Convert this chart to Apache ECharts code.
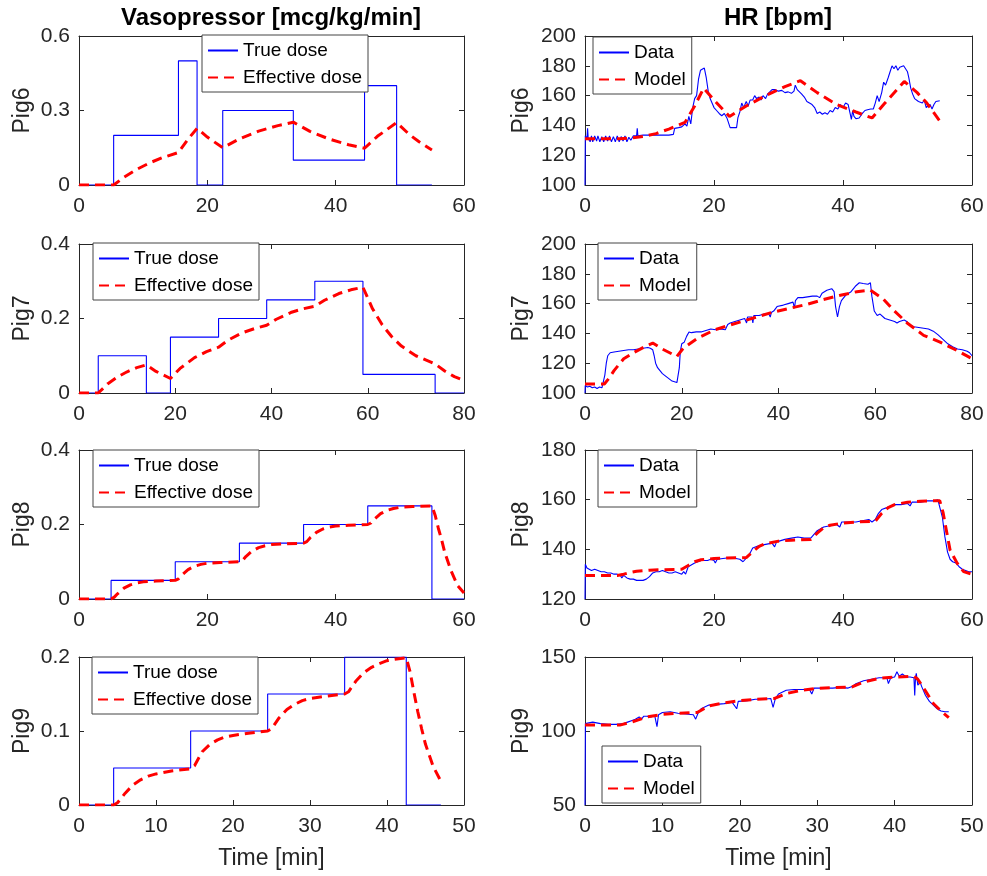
<!DOCTYPE html>
<html>
<head>
<meta charset="utf-8">
<title>Vasopressor / HR</title>
<script src="https://cdn.jsdelivr.net/npm/echarts@6.0.0/dist/echarts.min.js"></script>
<style>
  html, body { margin: 0; padding: 0; background: #fff; }
  #main { width: 987px; height: 876px; }
</style>
</head>
<body>
<div id="main"></div>
<script>
// ---- data: [time (min), value] ----
var pigNames = ['Pig6', 'Pig7', 'Pig8', 'Pig9'];

// x range per pig [max, interval]
var timeAxes = [[60, 20], [80, 20], [60, 20], [50, 10]];
// y range per pig, vasopressor [min, max, interval]
var doseAxes = [[0, 0.6, 0.3], [0, 0.4, 0.2], [0, 0.4, 0.2], [0, 0.2, 0.1]];
// y range per pig, HR
var hrAxes = [[100, 200, 20], [100, 200, 20], [120, 180, 20], [50, 150, 50]];

// true dose, held until next point
var pig6True = [[0, 0], [5.4, 0.2], [15.5, 0.5], [18.4, 0], [22.4, 0.3], [33.4, 0.1], [44.5, 0.4], [49.5, 0], [55, 0]];
var pig7True = [[0, 0], [4, 0.1], [14, 0], [19, 0.15], [29, 0.2], [39, 0.25], [49, 0.3], [59, 0.05], [74, 0], [80, 0]];
var pig8True = [[0, 0], [5, 0.05], [15, 0.1], [25, 0.15], [35, 0.2], [45, 0.25], [55, 0], [60, 0]];
var pig9True = [[0, 0], [4.5, 0.05], [14.5, 0.1], [24.5, 0.15], [34.5, 0.2], [42.5, 0], [47, 0]];

// effective dose
var pig6Eff = [[0, 0], [5.4, 0], [7, 0.031], [9, 0.063], [11, 0.089], [13, 0.110], [15.5, 0.131], [17, 0.185], [18.4, 0.228],
  [20, 0.193], [22.4, 0.150], [25, 0.186], [28, 0.217], [31, 0.239], [33.4, 0.253], [36, 0.216], [39, 0.185], [42, 0.162],
  [44.5, 0.148], [46.5, 0.196], [49.5, 0.251], [51.5, 0.203], [53, 0.174], [55, 0.141]];
var pig7Eff = [[0, 0], [4, 0], [6, 0.025], [8, 0.043], [10, 0.057], [12, 0.068], [14, 0.0755], [16, 0.058], [19, 0.039],
  [21, 0.066], [24, 0.095], [26.5, 0.111], [29, 0.123], [31, 0.142], [34, 0.162], [36.5, 0.173], [39, 0.182],
  [41, 0.198], [44, 0.216], [46.5, 0.226], [49, 0.233], [51, 0.249], [54, 0.267], [56.5, 0.277], [59, 0.284],
  [61, 0.226], [63, 0.183], [65, 0.151], [67, 0.126], [70, 0.1], [74, 0.078], [76, 0.059], [78, 0.044], [80, 0.034]];
var pig8Eff = [[0, 0], [5, 0], [5.5, 0.005], [6, 0.014], [7, 0.029], [8, 0.038], [9, 0.043], [10, 0.046], [12, 0.048], [15, 0.05],
  [15.5, 0.054], [16, 0.064], [17, 0.079], [18, 0.088], [19, 0.093], [20, 0.096], [22, 0.098], [25, 0.1],
  [25.5, 0.104], [26, 0.114], [27, 0.129], [28, 0.138], [29, 0.143], [30, 0.146], [32, 0.148], [35, 0.15],
  [35.5, 0.154], [36, 0.164], [37, 0.179], [38, 0.188], [39, 0.193], [40, 0.196], [42, 0.198], [45, 0.2],
  [45.5, 0.204], [46, 0.214], [47, 0.229], [48, 0.238], [49, 0.243], [50, 0.246], [52, 0.248], [55, 0.25],
  [55.5, 0.225], [56, 0.19], [56.5, 0.16], [57, 0.125], [58, 0.075], [59, 0.036], [60, 0.016]];
var pig9Eff = [[0, 0], [4.5, 0], [5, 0.003], [6, 0.016], [7, 0.027], [8, 0.034], [9, 0.039], [10, 0.042], [12, 0.046], [14.5, 0.049],
  [15, 0.053], [16, 0.072], [17, 0.082], [18, 0.088], [19, 0.092], [20, 0.094], [22, 0.097], [24.5, 0.1],
  [25, 0.103], [26, 0.118], [27, 0.129], [28, 0.136], [29, 0.141], [30, 0.144], [32, 0.147], [34.5, 0.15],
  [35, 0.153], [36, 0.168], [37, 0.179], [38, 0.186], [39, 0.191], [40, 0.195], [41, 0.197], [42.5, 0.199],
  [43, 0.18], [43.5, 0.152], [44, 0.126], [44.5, 0.103], [45, 0.082], [46, 0.052], [47, 0.032]];

// measured HR
var pig6Hr = [[0, 100], [0.05, 133], [0.3, 131], [0.4, 138], [0.5, 131], [0.8, 129], [1, 133], [1.2, 129], [1.5, 133], [1.8, 129.5],
  [2, 133], [2.3, 129], [2.6, 132.5], [2.9, 129], [3.2, 133], [3.5, 129.5], [3.8, 133], [4.1, 129], [4.4, 132.5], [4.7, 129],
  [5, 133], [5.3, 129], [5.6, 132.5], [5.9, 129.5], [6.2, 133], [6.5, 129], [6.8, 132], [7.1, 130], [7.5, 133], [8, 133],
  [8.1, 138], [8.2, 133], [9, 133.5], [10, 133.5], [11, 133.5], [12, 133.5], [13, 133.5], [13.7, 134], [13.9, 138], [14.5, 138.5],
  [15, 139], [15.5, 141], [15.8, 139.5], [16.1, 146], [16.4, 141], [16.7, 152], [17, 158], [17.3, 160], [17.6, 171], [17.9, 177],
  [18.2, 176], [18.5, 178.5], [18.8, 172], [19.1, 163], [19.4, 158], [19.7, 155], [20, 152], [20.4, 150], [20.8, 148], [21.2, 146.5],
  [21.6, 148], [22, 145], [22.3, 144], [22.5, 138.5], [23.5, 138.5], [23.7, 145], [24, 149], [24.3, 155], [24.6, 152], [25, 156],
  [25.3, 153], [25.6, 157], [26, 157], [26.3, 160], [26.6, 158], [27, 159], [27.3, 157], [27.6, 160], [28, 158], [28.3, 161],
  [28.6, 160], [29, 164], [29.5, 164], [30, 163], [30.5, 163.5], [31, 162], [31.5, 162.5], [32, 161.5], [32.4, 163], [32.6, 167],
  [32.9, 164], [33.2, 163], [33.6, 161], [34, 159], [34.4, 156], [34.8, 155], [35.2, 154], [35.6, 152], [36, 148], [36.4, 149],
  [36.8, 147.5], [37.2, 148.5], [37.6, 147.5], [38, 150], [38.4, 149], [38.8, 152], [39.2, 151], [39.6, 154], [40, 152], [40.4, 155],
  [40.8, 154], [41, 155], [41.1, 148], [41.3, 144], [41.5, 150], [41.7, 146], [42, 144.5], [42.5, 145], [43, 148], [43.4, 150],
  [43.8, 150.5], [44.3, 151], [44.7, 151], [45, 155], [45.3, 160], [45.6, 156], [46, 162], [46.3, 169], [46.6, 167], [47, 172],
  [47.3, 176], [47.6, 180], [47.9, 178], [48.2, 180], [48.5, 177], [48.8, 179], [49.1, 178], [49.4, 180], [49.7, 181], [50, 176],
  [50.2, 172], [50.5, 165], [50.8, 161], [51.1, 158], [51.4, 157], [51.7, 156], [52, 156.5], [52.3, 155], [52.6, 157], [52.9, 152],
  [53.2, 151], [53.5, 154], [53.8, 151], [54.1, 154], [54.4, 156], [54.7, 156.5], [55, 156.5]];
var pig7Hr = [[0, 100], [0.05, 105], [0.5, 104], [1, 104.5], [1.5, 103.5], [2, 104], [2.5, 103], [3, 104], [3.5, 103.5], [3.9, 104],
  [4.1, 112], [4.4, 120], [4.7, 125], [5.2, 127], [6, 127.5], [7, 128], [8, 128.5], [9, 129], [10, 129], [11, 129.5], [12, 130],
  [13, 130.5], [13.5, 130], [14, 129], [14.3, 125], [14.6, 120], [15, 117], [15.5, 115], [16, 113], [17, 110.5], [18, 108], [19, 107],
  [19.3, 108], [19.5, 117], [19.7, 128], [20, 133], [20.5, 134], [21, 138], [21.5, 141], [22, 140.5], [23, 141], [24, 141], [25, 142],
  [26, 143], [27, 142.5], [28, 143], [29, 142.5], [29.5, 146], [30, 147], [31, 148], [32, 149], [33, 150], [33.4, 147], [33.6, 151],
  [34.5, 151], [34.7, 147], [34.9, 152], [36, 152], [37, 153], [38, 153], [38.3, 151], [38.5, 154], [39, 155], [39.7, 158], [41, 159],
  [42, 160], [43, 161], [43.3, 157], [43.5, 162], [44, 164], [45, 164], [46, 164.5], [47, 165], [48, 165], [48.5, 164], [49, 167],
  [50, 169], [51, 170], [51.5, 168], [51.8, 158], [52.2, 151], [52.6, 158], [53, 162], [54, 166], [55, 168], [56, 172], [56.7, 174],
  [57.5, 173.5], [58.5, 173], [59, 174], [59.3, 165], [59.8, 155], [60.4, 152], [61, 153], [61.4, 152], [62, 150], [63, 149],
  [64, 148], [64.5, 147], [65, 148], [66, 149], [66.5, 148], [67, 146], [68, 144.5], [69, 144], [70, 143.5], [71, 143], [72, 141.5],
  [73, 139], [74, 136], [75, 133], [76, 131], [77, 129.5], [78, 129], [79, 128], [79.5, 127], [80, 125]];
var pig8Hr = [[0, 120], [0.05, 134], [0.3, 132.5], [0.6, 132], [1, 131.5], [1.5, 132], [2, 131.5], [2.5, 131], [3, 131], [3.5, 130.5],
  [4, 130.5], [4.5, 130], [5, 130], [5.5, 129.5], [5.7, 128.5], [6, 129.5], [6.5, 128.5], [7, 128], [7.5, 128], [8, 127.5], [9, 127.5],
  [9.5, 128], [10, 129], [10.5, 130.5], [11, 131], [11.5, 131], [12, 131.5], [12.5, 131], [13, 130.5], [13.5, 130.5], [14, 131],
  [14.5, 130.5], [15, 130], [15.3, 131], [15.6, 130], [16, 133], [17, 134.5], [18, 135.5], [19, 135.5], [19.5, 136], [20, 135.5],
  [20.2, 134.5], [20.5, 136], [22, 136.5], [23, 136.5], [24, 136], [24.5, 135], [25, 136.5], [25.5, 138], [26, 140.5], [27, 141.5],
  [28, 142], [29, 142.5], [29.4, 141], [29.7, 143], [30, 143.5], [31, 144], [32, 144.5], [33, 145], [34, 144.5], [35, 144.5],
  [35.5, 146], [36, 147.5], [37, 149], [38, 149.5], [39, 150], [39.5, 149], [39.8, 151], [41, 151], [42, 151], [43, 151.5], [44, 152],
  [44.5, 151], [45, 152], [45.5, 154.5], [46, 156], [47, 157], [48, 158], [49, 158], [50, 158.5], [50.4, 157.5], [50.7, 159],
  [52, 159], [53, 159.5], [54, 159.5], [54.7, 160], [55, 159.5], [55.4, 153], [55.8, 145], [56.2, 139], [56.6, 136], [57, 135],
  [57.5, 134.5], [58, 133], [58.5, 132], [59, 131.5], [59.5, 131], [60, 131]];
var pig9Hr = [[0, 50], [0.05, 105], [0.5, 105.5], [1, 106], [2, 105], [3, 104.5], [4, 104.5], [5, 105], [5.5, 106], [6, 107],
  [6.5, 108], [7, 109.5], [7.3, 108], [7.6, 110], [8, 110], [8.5, 109.5], [9, 110.5], [9.3, 103], [9.5, 111], [10, 112.5], [11, 113],
  [12, 112], [13, 111.5], [14, 111], [14.3, 108], [14.6, 112], [15, 115], [16, 117.5], [17, 118], [18, 118.5], [19, 119.5],
  [19.6, 115], [19.8, 120], [21, 120.5], [22, 121.5], [23, 121.5], [24, 122], [24.3, 116], [24.6, 122], [25, 125], [26, 127.5],
  [27, 128], [28, 128], [29, 128], [29.3, 125], [29.6, 129], [31, 129], [32, 129], [33, 129.5], [34, 129], [34.5, 130], [35, 132],
  [36, 134], [37, 135], [38, 136], [39, 136], [39.2, 132], [39.5, 136], [40, 136.5], [40.3, 140], [40.6, 137], [41, 138.5],
  [41.5, 136.5], [42, 136.5], [42.5, 136], [42.6, 124], [42.7, 136], [42.8, 139], [43, 131], [43.3, 133], [43.5, 130], [44, 124],
  [44.5, 120], [45, 117.5], [45.5, 115], [46, 113.5], [46.5, 113], [47, 113]];

// model HR
var pig6Model = [[0, 131], [5.4, 131], [7, 131.5], [9, 132.5], [11, 134.5], [13, 137.5], [15.5, 142], [17, 153], [18.4, 165],
  [20, 157], [22.4, 146], [25, 153], [28, 160], [31, 166], [33.4, 170], [36, 162], [39, 154], [42, 149], [44.5, 145],
  [46.5, 155], [49.5, 169.5], [51.5, 162], [53, 155], [55, 143]];
var pig7Model = [[0, 106], [4, 106], [5, 110], [6, 115], [8, 123], [10, 127], [12, 130.5], [14, 133.5], [16, 129.5], [19, 124.5],
  [20.3, 130], [23.4, 137], [26.9, 142.5], [32, 147.6], [39, 154.4], [45.9, 159.5], [49.3, 162.7], [52.8, 165.6], [56.2, 168],
  [59, 169], [61.7, 163], [63.8, 155.5], [66.6, 147], [70, 138.7], [73.4, 134.2], [76.9, 128.5], [80, 123]];
var pig8Model = [[0, 129.5], [5, 129.5], [6, 130], [7, 130.7], [8, 131.2], [10, 131.6], [12, 131.8], [15, 132], [16, 133.5],
  [17, 135], [18, 135.8], [20, 136.3], [22, 136.5], [25, 136.7], [26, 139], [27, 141.2], [28, 142.3], [30, 143.3], [32, 143.7],
  [35, 144], [36, 146.5], [37, 148.7], [38, 149.7], [40, 150.6], [42, 151], [45, 151.3], [46, 154.5], [47, 156.8], [48, 158],
  [50, 159], [52, 159.4], [55, 159.6], [55.5, 155], [56, 148], [56.6, 139.7], [57.7, 134.4], [58.7, 131], [60, 130]];
var pig9Model = [[0, 104], [4.5, 104], [6, 106], [8, 109.5], [10, 111.2], [12, 112], [14.5, 112.5], [16, 117], [18, 119],
  [20, 120.5], [22, 121.3], [24.5, 122], [26, 125.3], [28, 127.5], [30, 128.8], [32, 129.3], [34.5, 129.8], [36, 133],
  [38, 135.6], [40, 136.4], [42.5, 137], [43, 135], [44, 127], [45, 118.6], [46, 113.5], [47, 109]];

var trueDose = [pig6True, pig7True, pig8True, pig9True];
var effDose = [pig6Eff, pig7Eff, pig8Eff, pig9Eff];
var hrData = [pig6Hr, pig7Hr, pig8Hr, pig9Hr];
var hrModel = [pig6Model, pig7Model, pig8Model, pig9Model];

// ---- layout ----
var FONT = 'Liberation Sans, Arial, Helvetica, sans-serif';
var INK = '#262626';
var colLeft = [79, 585];
var colWidth = [385, 387];
var rowTop = [36, 244, 450, 657];
var rowHeight = 149;
var legendPos = [[[202, 35], [593, 37]], [[93, 243], [598, 243]], [[93, 450], [598, 450]], [[92, 657], [602, 746]]];

var myChart = echarts.init(document.getElementById('main'), null, { renderer: 'canvas' });

var grids = [], xAxes = [], yAxes = [], series = [], legends = [];

function xAxisOf(g, r, top) {
  return {
    type: 'value', gridIndex: g, position: top ? 'top' : 'bottom',
    min: 0, max: timeAxes[r][0], interval: timeAxes[r][1],
    name: (!top && r === 3) ? 'Time [min]' : '',
    nameLocation: 'middle', nameGap: 42,
    nameTextStyle: { fontSize: 23, color: INK, fontFamily: FONT },
    axisLine: { show: true, onZero: false, lineStyle: { color: INK, width: 1 } },
    axisTick: { show: true, inside: true, length: 5, lineStyle: { color: INK } },
    axisLabel: { show: !top, fontSize: 21, color: INK, fontFamily: FONT, margin: 11 },
    splitLine: { show: false }
  };
}

function yAxisOf(g, r, c, right) {
  var a = c === 0 ? doseAxes[r] : hrAxes[r];
  return {
    type: 'value', gridIndex: g, position: right ? 'right' : 'left',
    min: a[0], max: a[1], interval: a[2],
    name: right ? '' : pigNames[r],
    nameLocation: 'middle', nameGap: c === 0 ? 45 : 52,
    nameTextStyle: { fontSize: 23, color: INK, fontFamily: FONT },
    axisLine: { show: true, onZero: false, lineStyle: { color: INK, width: 1 } },
    axisTick: { show: true, inside: true, length: 5, lineStyle: { color: INK } },
    axisLabel: { show: !right, fontSize: 21, color: INK, fontFamily: FONT, margin: 9 },
    splitLine: { show: false }
  };
}

for (var r = 0; r < 4; r++) {
  for (var c = 0; c < 2; c++) {
    var g = r * 2 + c;
    grids.push({ left: colLeft[c], top: rowTop[r], width: colWidth[c], height: r === 3 ? 148 : rowHeight });
    xAxes.push(xAxisOf(g, r, false), xAxisOf(g, r, true));
    yAxes.push(yAxisOf(g, r, c, false), yAxisOf(g, r, c, true));

    var names = c === 0 ? ['True dose', 'Effective dose'] : ['Data', 'Model'];
    var blue = c === 0 ? trueDose[r] : hrData[r];
    var red = c === 0 ? effDose[r] : hrModel[r];

    series.push({
      name: names[0], type: 'line', xAxisIndex: g * 2, yAxisIndex: g * 2,
      data: blue, step: c === 0 ? 'end' : false,
      symbol: 'none', showSymbol: false, z: 2,
      itemStyle: { color: '#0000ff' },
      lineStyle: { color: '#0000ff', width: 1.1 }
    });
    series.push({
      name: names[1], type: 'line', xAxisIndex: g * 2, yAxisIndex: g * 2,
      data: red, symbol: 'none', showSymbol: false, z: 3,
      itemStyle: { color: '#ff0000' },
      lineStyle: { color: '#ff0000', width: 3, type: [10, 6] }
    });

    legends.push({
      data: names, orient: 'vertical',
      left: legendPos[r][c][0], top: legendPos[r][c][1],
      itemWidth: 30, itemHeight: 20, itemGap: 8,
      padding: [6, 6, 5, 5],
      backgroundColor: '#fff', borderColor: '#444', borderWidth: 1,
      selectedMode: false,
      // hide the marker, keep the line sample
      itemStyle: { opacity: 0, borderWidth: 0 },
      textStyle: { fontSize: 19, color: '#000', fontFamily: FONT },
      z: 10
    });
  }
}

var option = {
  backgroundColor: '#fff',
  animation: false,
  graphic: [
    { type: 'text', x: 271, y: 18, style: { text: 'Vasopressor [mcg/kg/min]', align: 'center', verticalAlign: 'middle', fontSize: 24, fontWeight: 'bold', fontFamily: FONT, fill: '#000' } },
    { type: 'text', x: 778, y: 18, style: { text: 'HR [bpm]', align: 'center', verticalAlign: 'middle', fontSize: 24, fontWeight: 'bold', fontFamily: FONT, fill: '#000' } }
  ],
  grid: grids,
  xAxis: xAxes,
  yAxis: yAxes,
  legend: legends,
  series: series
};

myChart.setOption(option);
</script>
</body>
</html>
